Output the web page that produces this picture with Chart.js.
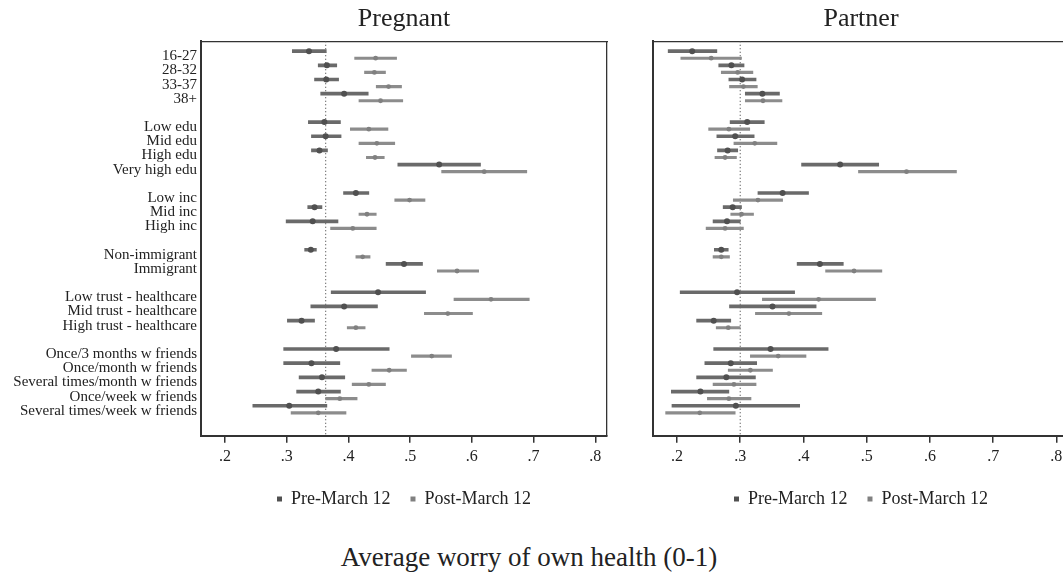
<!DOCTYPE html>
<html lang="en">
  <head>
    <meta charset="UTF-8" />
    <title>Average worry of own health</title>
    <style>
      body {
        margin: 0;
        background: #ffffff;
        width: 1063px;
        height: 575px;
        overflow: hidden;
        position: relative;
        font-family: "Liberation Serif", "DejaVu Serif", serif;
      }

      .panel {
        position: absolute;
        top: 0;
        height: 518px;
      }

      #pregnantBox {
        left: 0;
        width: 620px;
      }

      #partnerBox {
        left: 630px;
        width: 445px;
      }

      .axis-title {
        position: absolute;
        left: 0;
        width: 1058px;
        top: 542px;
        text-align: center;
        font-size: 27px;
        color: #222;
      }
    </style>
  </head>
  <body>
    <div class="panel" id="pregnantBox"><canvas id="pregnantChart"></canvas></div>
    <div class="panel" id="partnerBox"><canvas id="partnerChart"></canvas></div>
    <div class="axis-title">Average worry of own health (0-1)</div>

    <script src="https://cdn.jsdelivr.net/npm/chart.js"></script>
    <script>
      // rows of the plot, "" marks the blank row between groups
      const categories = [
        "16-27", "28-32", "33-37", "38+", "",
        "Low edu", "Mid edu", "High edu", "Very high edu", "",
        "Low inc", "Mid inc", "High inc", "",
        "Non-immigrant", "Immigrant", "",
        "Low trust - healthcare", "Mid trust - healthcare", "High trust - healthcare", "",
        "Once/3 months w friends", "Once/month w friends",
        "Several times/month w friends", "Once/week w friends",
        "Several times/week w friends",
      ];
      const seriesNames = ["Pre-March 12", "Post-March 12"];
      const xTicks = [0.2, 0.3, 0.4, 0.5, 0.6, 0.7, 0.8];

      // Pregnant: estimate, lower and upper bound
      const pregPre = [0.336, 0.365, 0.364, 0.393, null, 0.361, 0.363, 0.353, 0.547, null, 0.412, 0.345, 0.342, null, 0.339, 0.490, null, 0.448, 0.393, 0.324, null, 0.380, 0.340, 0.357, 0.351, 0.304];
      const pregPreLo = [0.309, 0.351, 0.345, 0.355, null, 0.335, 0.340, 0.340, 0.480, null, 0.392, 0.334, 0.299, null, 0.329, 0.461, null, 0.372, 0.339, 0.301, null, 0.295, 0.295, 0.320, 0.316, 0.245];
      const pregPreHi = [0.364, 0.381, 0.384, 0.432, null, 0.387, 0.388, 0.366, 0.614, null, 0.433, 0.357, 0.383, null, 0.348, 0.520, null, 0.525, 0.447, 0.345, null, 0.466, 0.386, 0.394, 0.387, 0.365];
      const pregPost = [0.444, 0.442, 0.465, 0.452, null, 0.433, 0.446, 0.443, 0.620, null, 0.499, 0.430, 0.407, null, 0.423, 0.576, null, 0.631, 0.561, 0.412, null, 0.535, 0.466, 0.433, 0.386, 0.351];
      const pregPostLo = [0.410, 0.426, 0.445, 0.417, null, 0.403, 0.417, 0.429, 0.551, null, 0.475, 0.417, 0.371, null, 0.412, 0.544, null, 0.571, 0.523, 0.398, null, 0.502, 0.438, 0.406, 0.363, 0.307];
      const pregPostHi = [0.478, 0.460, 0.486, 0.488, null, 0.464, 0.475, 0.458, 0.689, null, 0.524, 0.445, 0.445, null, 0.435, 0.611, null, 0.693, 0.601, 0.427, null, 0.567, 0.494, 0.460, 0.414, 0.396];

      // Partner
      const partPre = [0.224, 0.286, 0.303, 0.335, null, 0.311, 0.292, 0.280, 0.458, null, 0.367, 0.288, 0.279, null, 0.270, 0.426, null, 0.295, 0.351, 0.258, null, 0.348, 0.285, 0.278, 0.237, 0.293];
      const partPreLo = [0.186, 0.266, 0.282, 0.308, null, 0.284, 0.263, 0.264, 0.397, null, 0.328, 0.273, 0.257, null, 0.259, 0.390, null, 0.205, 0.283, 0.231, null, 0.258, 0.244, 0.231, 0.191, 0.192];
      const partPreHi = [0.263, 0.306, 0.325, 0.362, null, 0.338, 0.322, 0.296, 0.519, null, 0.408, 0.302, 0.300, null, 0.281, 0.463, null, 0.386, 0.420, 0.285, null, 0.439, 0.326, 0.324, 0.282, 0.394];
      const partPost = [0.254, 0.296, 0.305, 0.336, null, 0.282, 0.323, 0.276, 0.563, null, 0.328, 0.302, 0.276, null, 0.270, 0.480, null, 0.424, 0.377, 0.281, null, 0.360, 0.316, 0.290, 0.282, 0.236];
      const partPostLo = [0.206, 0.270, 0.283, 0.308, null, 0.250, 0.290, 0.260, 0.487, null, 0.289, 0.285, 0.246, null, 0.257, 0.435, null, 0.335, 0.324, 0.262, null, 0.316, 0.281, 0.257, 0.248, 0.182];
      const partPostHi = [0.302, 0.320, 0.327, 0.366, null, 0.315, 0.358, 0.294, 0.642, null, 0.367, 0.321, 0.305, null, 0.283, 0.524, null, 0.514, 0.429, 0.300, null, 0.404, 0.351, 0.325, 0.317, 0.292];

      // overall means (dotted lines)
      const pregnantMean = 0.363;
      const partnerMean = 0.3;

      const FONT = "'Liberation Serif', 'DejaVu Serif', serif";
      const TEXT = "#222";
      const AXIS = "#333";
      const PRE_SHIFT = -0.36;
      const POST_SHIFT = 0.14;
      const Y_MIN = -1.06;
      const Y_MAX = 26.76;

      function points(est, shift) {
        const out = [];
        est.forEach((v, i) => {
          if (v !== null) out.push({ x: v, y: i + shift });
        });
        return out;
      }

      function spans(lo, hi, shift) {
        const out = [];
        lo.forEach((v, i) => {
          if (v !== null) out.push({ x: [v, hi[i]], y: i + shift });
        });
        return out;
      }

      function makePanel(id, title, est, ref, cfg) {
        return new Chart(document.getElementById(id), {
          type: "scatter",
          data: {
            datasets: [
              {
                label: seriesNames[0],
                data: points(est[0], PRE_SHIFT),
                backgroundColor: "#505050",
                borderWidth: 0,
                pointRadius: 3,
              },
              {
                label: seriesNames[1],
                data: points(est[3], POST_SHIFT),
                backgroundColor: "#808080",
                borderWidth: 0,
                pointRadius: 2.4,
              },
              {
                type: "bar",
                indexAxis: "y",
                grouped: false,
                barThickness: 3,
                backgroundColor: "#6a6a6a",
                data: spans(est[1], est[2], PRE_SHIFT),
              },
              {
                type: "bar",
                indexAxis: "y",
                grouped: false,
                barThickness: 2.5,
                backgroundColor: "#8c8c8c",
                data: spans(est[4], est[5], POST_SHIFT),
              },
              {
                showLine: true,
                data: [
                  { x: ref, y: Y_MIN },
                  { x: ref, y: Y_MAX },
                ],
                borderColor: "#555",
                borderWidth: 1.2,
                borderDash: [1, 2.5],
                pointRadius: 0,
              },
            ],
          },
          options: {
            responsive: true,
            maintainAspectRatio: false,
            animation: false,
            events: [],
            layout: { padding: { left: 0, right: cfg.padRight, top: 0, bottom: 0 } },
            scales: {
              x: {
                type: "linear",
                min: cfg.xMin,
                max: cfg.xMax,
                afterBuildTicks: (s) => {
                  s.ticks = xTicks.map((v) => ({ value: v }));
                },
                grid: {
                  display: true,
                  drawOnChartArea: false,
                  drawTicks: true,
                  tickLength: 7,
                  color: AXIS,
                  lineWidth: 1.5,
                },
                border: { display: true, color: AXIS, width: 2 },
                ticks: {
                  padding: 4,
                  minRotation: 0,
                  maxRotation: 0,
                  color: TEXT,
                  font: { family: FONT, size: 16 },
                  callback: (v) => Number(v).toFixed(1).replace(/^0/, ""),
                },
              },
              xTop: {
                type: "linear",
                position: "top",
                min: cfg.xMin,
                max: cfg.xMax,
                grid: { display: false, drawTicks: false },
                ticks: { display: false },
                border: { display: true, color: AXIS, width: 1.3 },
              },
              y: {
                type: "linear",
                reverse: true,
                offset: false,
                min: Y_MIN,
                max: Y_MAX,
                afterBuildTicks: (s) => {
                  s.ticks = categories
                    .map((c, i) => ({ value: i }))
                    .filter((t) => categories[t.value] !== "");
                },
                afterFit: (s) => {
                  s.width = cfg.yWidth;
                },
                grid: { display: false, drawTicks: false, offset: false },
                border: { display: true, color: AXIS, width: 2 },
                ticks: {
                  display: cfg.showLabels,
                  autoSkip: false,
                  padding: 4,
                  color: TEXT,
                  font: { family: FONT, size: 15 },
                  callback: (v) => categories[v] || "",
                },
              },
              yRight: {
                type: "linear",
                position: "right",
                reverse: true,
                min: Y_MIN,
                max: Y_MAX,
                grid: { display: false, drawTicks: false },
                ticks: { display: false },
                border: { display: true, color: AXIS, width: 1.3 },
              },
            },
            plugins: {
              title: {
                display: true,
                text: title,
                fullSize: false,
                color: TEXT,
                font: { family: FONT, size: 26, weight: "normal" },
                padding: { top: 4, bottom: 6 },
              },
              legend: {
                position: "bottom",
                fullSize: false,
                labels: {
                  filter: (item) => item.datasetIndex < 2,
                  usePointStyle: true,
                  pointStyle: "rect",
                  boxWidth: 5,
                  boxHeight: 5,
                  padding: 20,
                  color: TEXT,
                  font: { family: FONT, size: 18 },
                },
              },
              tooltip: { enabled: false },
            },
          },
        });
      }

      makePanel(
        "pregnantChart",
        "Pregnant",
        [pregPre, pregPreLo, pregPreHi, pregPost, pregPostLo, pregPostHi],
        pregnantMean,
        { xMin: 0.161, xMax: 0.819, yWidth: 201, padRight: 13, showLabels: true }
      );

      makePanel(
        "partnerChart",
        "Partner",
        [partPre, partPreLo, partPreHi, partPost, partPostLo, partPostHi],
        partnerMean,
        { xMin: 0.162, xMax: 0.82, yWidth: 23, padRight: 6, showLabels: false }
      );
    </script>
  </body>
</html>
